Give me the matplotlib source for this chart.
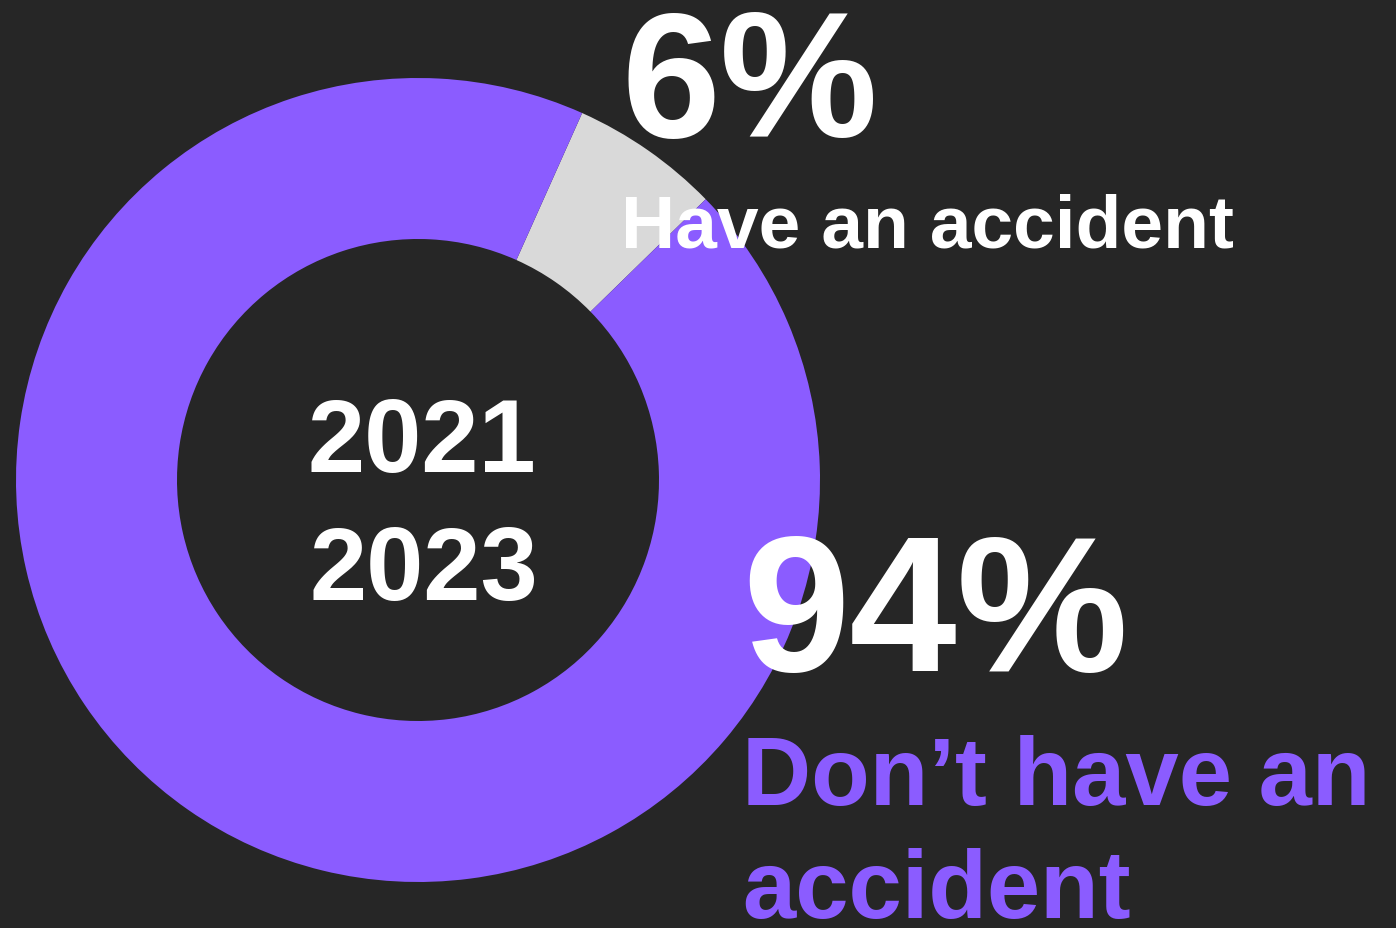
import matplotlib
matplotlib.use('Agg')
import matplotlib.pyplot as plt

# data
labels = ['Have an accident', 'Don\u2019t have an\naccident']
shares = [6, 94]
years = ['2021', '2023']

BG = '#262626'
PURPLE = '#8B5CFF'
GREY = '#D9D9D9'
W, H = 1396, 929

plt.rcParams['font.family'] = ['Liberation Sans', 'DejaVu Sans']

fig = plt.figure(figsize=(W / 100, H / 100), dpi=100, facecolor=BG)
ax = fig.add_axes([0, 0, 1, 1])
ax.set_facecolor(BG)


def py(y):
    # pixel row (from top) -> data y
    return H - y


ax.pie(shares, colors=[GREY, PURPLE], startangle=65.9, counterclock=False,
       center=(418, py(481)), radius=402,
       wedgeprops=dict(width=402 - 241, linewidth=0))

ax.set_xlim(0, W)
ax.set_ylim(0, H)
ax.set_aspect('equal')
ax.axis('off')

# centre years
ax.text(422, py(472), years[0], color='white', fontsize=74, fontweight='bold',
        ha='center', va='baseline')
ax.text(424, py(600), years[1], color='white', fontsize=74, fontweight='bold',
        ha='center', va='baseline')

# 6% label
ax.text(621, py(137), f'{shares[0]}%', color='white', fontsize=128,
        fontweight='bold', ha='left', va='baseline')
ax.text(621, py(247), labels[0], color='white', fontsize=54,
        fontweight='bold', ha='left', va='baseline')

# 94% label
ax.text(742, py(671), f'{shares[1]}%', color='white', fontsize=139,
        fontweight='bold', ha='left', va='baseline')
line1, line2 = labels[1].split('\n')
ax.text(742, py(805), line1, color=PURPLE, fontsize=69,
        fontweight='bold', ha='left', va='baseline')
ax.text(742, py(918), line2, color=PURPLE, fontsize=69,
        fontweight='bold', ha='left', va='baseline')

fig.savefig('out.png', dpi=100, facecolor=BG)
